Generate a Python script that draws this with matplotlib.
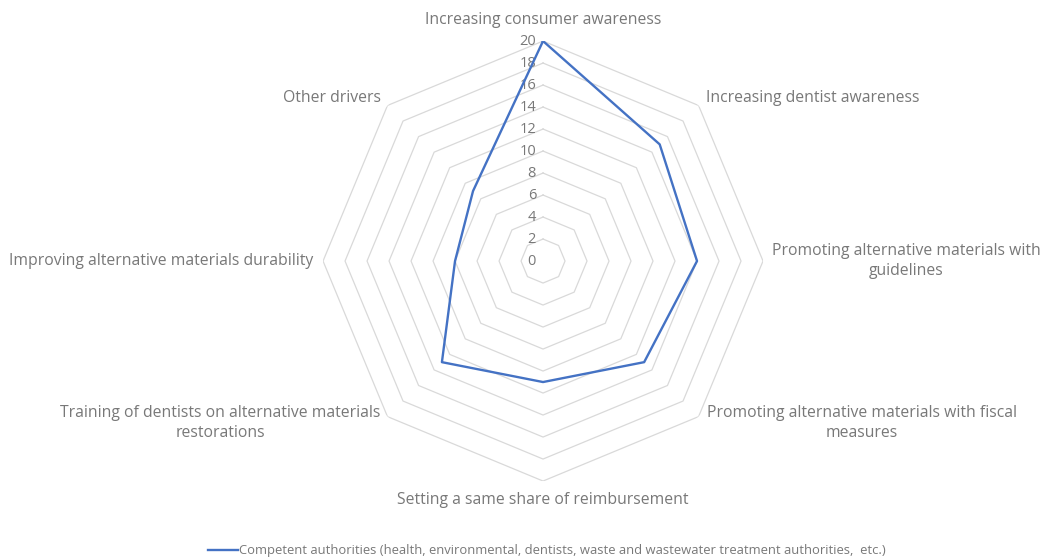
import matplotlib
matplotlib.use("Agg")
import matplotlib.pyplot as plt
from matplotlib.lines import Line2D
import numpy as np

plt.rcParams.update({"font.family": ["Open Sans", "DejaVu Sans"], "font.size": 11.3})

# data
categories = [
    "Increasing consumer awareness",
    "Increasing dentist awareness",
    "Promoting alternative materials with\nguidelines",
    "Promoting alternative materials with fiscal\nmeasures",
    "Setting a same share of reimbursement",
    "Training of dentists on alternative materials\nrestorations",
    "Improving alternative materials durability",
    "Other drivers",
]
values = [20, 15, 14, 13, 11, 13, 8, 9]
series_name = ("Competent authorities (health, environmental, dentists, waste and "
               "wastewater treatment authorities,  etc.)")
r_ticks = list(range(0, 21, 2))

# label placement: (dx px, dy px, ha, va)
label_pos = [
    (0, 13, "center", "bottom"),
    (7, 7, "left", "center"),
    (9, 0, "left", "center"),
    (8, -6, "left", "center"),
    (0, -19, "center", "center"),
    (-7, -6, "right", "center"),
    (-10, 0, "right", "center"),
    (-6, 7, "right", "center"),
]

TXT = "#787878"
GRID = "#d9d9d9"
BLUE = "#4472c4"

n = len(categories)
theta = np.linspace(0, 2 * np.pi, n, endpoint=False)
theta_c = np.append(theta, theta[0])

fig = plt.figure(figsize=(10.46, 5.6), dpi=100)
ax = fig.add_axes([0.3088, 0.141, 0.4207, 0.7857], projection="polar")
ax.set_theta_offset(np.pi / 2)
ax.set_theta_direction(-1)
ax.set_ylim(0, 20)
ax.grid(False)
ax.set_xticks([]); ax.set_yticks([])
ax.spines["polar"].set_visible(False)
ax.patch.set_alpha(0)

# polygon gridlines like Excel
for r in r_ticks[1:]:
    ax.plot(theta_c, [r] * (n + 1), color=GRID, lw=0.9, zorder=1)

for r in r_ticks:
    ax.annotate(str(r), (0, r), xytext=(-7, 0), textcoords="offset pixels",
                ha="right", va="center", color=TXT, fontsize=10.5)

vals_c = values + values[:1]
ax.plot(theta_c, vals_c, color=BLUE, lw=1.7, zorder=3)

for t, lab, (dx, dy, ha, va) in zip(theta, categories, label_pos):
    ax.annotate(lab, (t, 20), xytext=(dx, dy), textcoords="offset pixels",
                ha=ha, va=va, multialignment="center", color=TXT, fontsize=11.3,
                linespacing=1.35, annotation_clip=False)

handle = Line2D([], [], color=BLUE, lw=1.7)
fig.legend([handle], [series_name], loc="lower center", bbox_to_anchor=(0.523, -0.016),
           frameon=False, fontsize=9.4, handlelength=2.3, handletextpad=0.1,
           labelcolor=TXT)

fig.savefig("out.png", dpi=100)
